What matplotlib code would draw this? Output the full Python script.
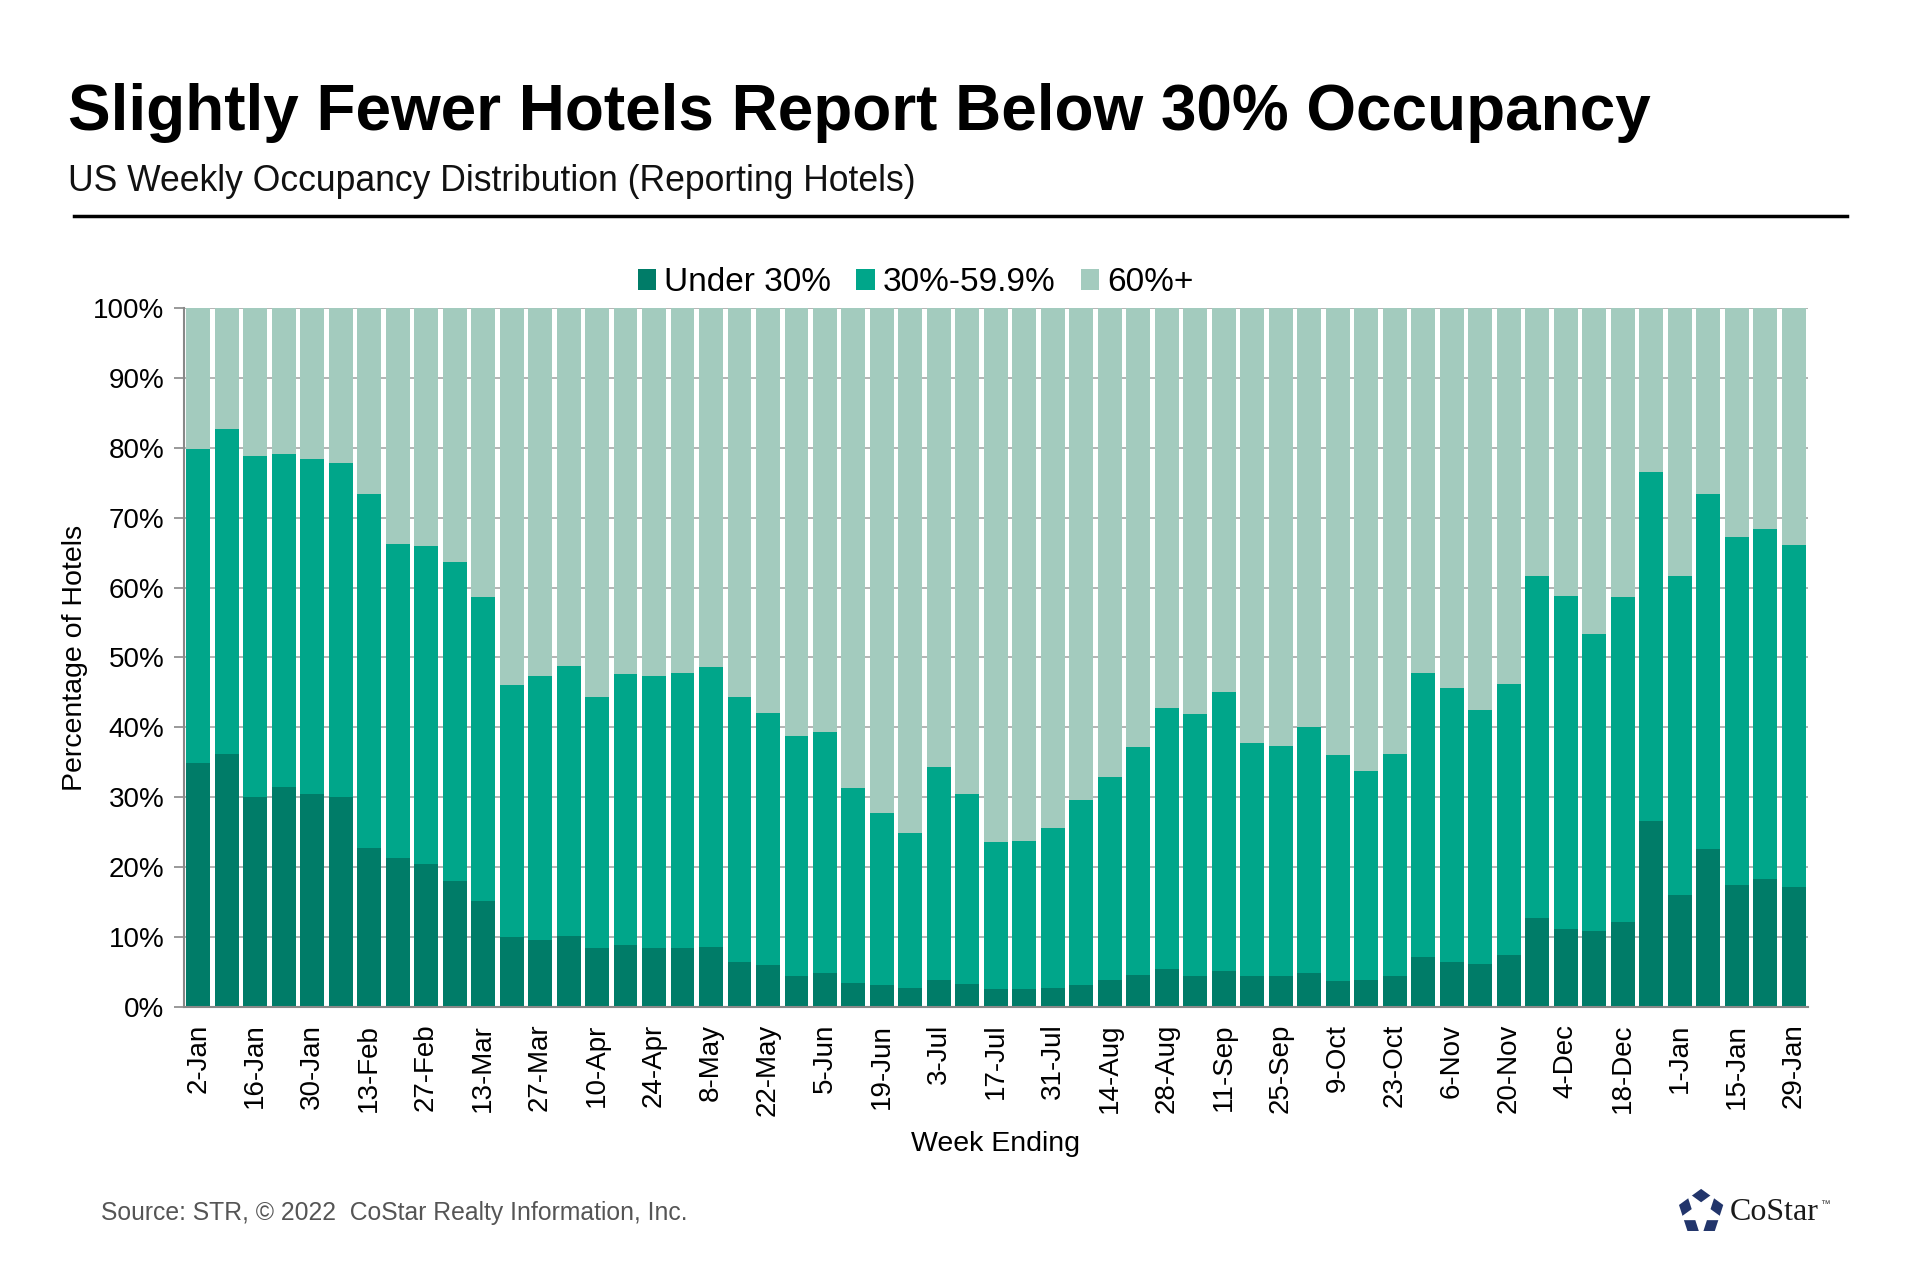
import numpy as np
import matplotlib
matplotlib.use("Agg")
import matplotlib.pyplot as plt
from matplotlib.patches import Polygon, Patch
from matplotlib.lines import Line2D

plt.rcParams['font.family'] = ['Liberation Sans', 'DejaVu Sans']

weeks = ["2-Jan", "9-Jan", "16-Jan", "23-Jan", "30-Jan", "6-Feb", "13-Feb", "20-Feb", "27-Feb", "6-Mar",
         "13-Mar", "20-Mar", "27-Mar", "3-Apr", "10-Apr", "17-Apr", "24-Apr", "1-May", "8-May", "15-May",
         "22-May", "29-May", "5-Jun", "12-Jun", "19-Jun", "26-Jun", "3-Jul", "10-Jul", "17-Jul", "24-Jul",
         "31-Jul", "7-Aug", "14-Aug", "21-Aug", "28-Aug", "4-Sep", "11-Sep", "18-Sep", "25-Sep", "2-Oct",
         "9-Oct", "16-Oct", "23-Oct", "30-Oct", "6-Nov", "13-Nov", "20-Nov", "27-Nov", "4-Dec", "11-Dec",
         "18-Dec", "25-Dec", "1-Jan", "8-Jan", "15-Jan", "22-Jan", "29-Jan"]

under30 = [34.9, 36.2, 30.1, 31.5, 30.5, 30.0, 22.7, 21.3, 20.5, 18.0,
           15.2, 10.0, 9.6, 10.2, 8.4, 8.9, 8.4, 8.4, 8.6, 6.5,
           6.0, 4.5, 4.8, 3.5, 3.1, 2.7, 3.9, 3.3, 2.6, 2.6,
           2.7, 3.1, 3.8, 4.6, 5.5, 4.5, 5.2, 4.5, 4.5, 4.8,
           3.7, 3.8, 4.5, 7.2, 6.5, 6.2, 7.4, 12.7, 11.2, 10.9,
           12.2, 26.6, 16.0, 22.6, 17.5, 18.3, 17.2]

mid30_60 = [44.9, 46.5, 48.7, 47.6, 47.9, 47.8, 50.7, 45.0, 45.5, 45.7,
            43.4, 36.0, 37.8, 38.6, 36.0, 38.8, 39.0, 39.4, 40.1, 37.9,
            36.1, 34.3, 34.6, 27.8, 24.7, 22.2, 30.4, 27.2, 21.0, 21.1,
            22.9, 26.5, 29.1, 32.6, 37.3, 37.4, 39.9, 33.2, 32.9, 35.2,
            32.4, 30.0, 31.7, 40.6, 39.2, 36.3, 38.8, 48.9, 47.6, 42.5,
            46.4, 50.0, 45.6, 50.8, 49.7, 50.1, 48.9]

over60 = [20.2, 17.3, 21.2, 20.9, 21.6, 22.2, 26.6, 33.7, 34.0, 36.3,
          41.4, 54.0, 52.6, 51.2, 55.6, 52.3, 52.6, 52.2, 51.3, 55.6,
          57.9, 61.2, 60.6, 68.7, 72.2, 75.1, 65.7, 69.5, 76.4, 76.3,
          74.4, 70.4, 67.1, 62.8, 57.2, 58.1, 54.9, 62.3, 62.6, 60.0,
          63.9, 66.2, 63.8, 52.2, 54.3, 57.5, 53.8, 38.4, 41.2, 46.6,
          41.4, 23.4, 38.4, 26.6, 32.8, 31.6, 33.9]

series_names = ["Under 30%", "30%-59.9%", "60%+"]
colors = ["#007C68", "#00A68A", "#A3CBBE"]

fig = plt.figure(figsize=(19.2, 12.8), dpi=100)
ax = fig.add_axes([0.0958, 0.2133, 0.8458, 0.5461])

x = np.arange(len(weeks))
u = np.array(under30)
m = np.array(mid30_60)
h = np.array(over60)
w = 0.84
ax.bar(x, u, width=w, color=colors[0], zorder=2)
ax.bar(x, m, width=w, bottom=u, color=colors[1], zorder=2)
ax.bar(x, h, width=w, bottom=u + m, color=colors[2], zorder=2)

ax.set_xlim(-0.5, len(weeks) - 0.5)
ax.set_ylim(0, 100)
ax.set_yticks(np.arange(0, 101, 10))
ax.set_yticklabels([f"{v}%" for v in range(0, 101, 10)], fontsize=20)
ax.yaxis.grid(True, color="#A8A8A8", linewidth=1.2, zorder=0)
ax.set_axisbelow(True)
ax.set_xticks(x[::2])
ax.set_xticklabels(weeks[::2], rotation=90, fontsize=20)
ax.tick_params(axis='x', length=0, pad=12)
ax.tick_params(axis='y', length=7, color="#888888", width=1.2, pad=7)
for s in ["top", "right"]:
    ax.spines[s].set_visible(False)
ax.spines["left"].set_color("#888888")
ax.spines["left"].set_linewidth(1.5)
ax.spines["bottom"].set_color("#888888")
ax.spines["bottom"].set_linewidth(1.5)
ax.set_ylabel("Percentage of Hotels", fontsize=20.5, labelpad=4)
ax.set_xlabel("Week Ending", fontsize=20.5, labelpad=11)

handles = [Patch(facecolor=c, edgecolor='none') for c in colors]
fig.legend(handles, series_names, loc='center', bbox_to_anchor=(0.477, 0.779), ncol=3,
           frameon=False, fontsize=24, handlelength=0.55, handleheight=0.6,
           handletextpad=0.25, columnspacing=0.75)

fig.text(0.0354, 0.912, "Slightly Fewer Hotels Report Below 30% Occupancy",
         fontsize=46, fontweight='bold', ha='left', va='center')
fig.text(0.0354, 0.858, "US Weekly Occupancy Distribution (Reporting Hotels)",
         fontsize=25.6, ha='left', va='center', color="#111111")
fig.add_artist(Line2D([0.0385, 0.962], [0.831, 0.831], color='black', linewidth=2.5,
                      transform=fig.transFigure))
fig.text(0.0526, 0.052, "Source: STR, \u00a9 2022  CoStar Realty Information, Inc.",
         fontsize=17.8, ha='left', va='center', color="#555555")

# CoStar logo
lax = fig.add_axes([0.8725, 0.033, 0.027, 0.040])
lax.set_xlim(-1.1, 1.1)
lax.set_ylim(-1.1, 1.1)
lax.set_aspect('equal')
lax.axis('off')
navy = "#22356B"
ang = np.deg2rad(90 + 72 * np.arange(5))
pent = np.column_stack([np.cos(ang), np.sin(ang)])
lax.add_patch(Polygon(pent, closed=True, facecolor=navy, edgecolor='none'))
star = []
for k in range(5):
    a_out = np.deg2rad(90 + 36 + 72 * k)
    a_in = np.deg2rad(90 + 72 * (k + 1))
    star.append([1.0 * np.cos(a_out), 1.0 * np.sin(a_out)])
    star.append([0.38 * np.cos(a_in), 0.38 * np.sin(a_in)])
lax.add_patch(Polygon(star, closed=True, facecolor='white', edgecolor='white', linewidth=1.2))
fig.text(0.901, 0.053, "CoStar", fontsize=23, family=['Liberation Serif', 'DejaVu Serif'],
         ha='left', va='center', color="#1a1a1a")
fig.text(0.948, 0.059, "\u2122", fontsize=7, ha='left', va='center', color="#333333")

fig.savefig("out.png", dpi=100, facecolor='white')
